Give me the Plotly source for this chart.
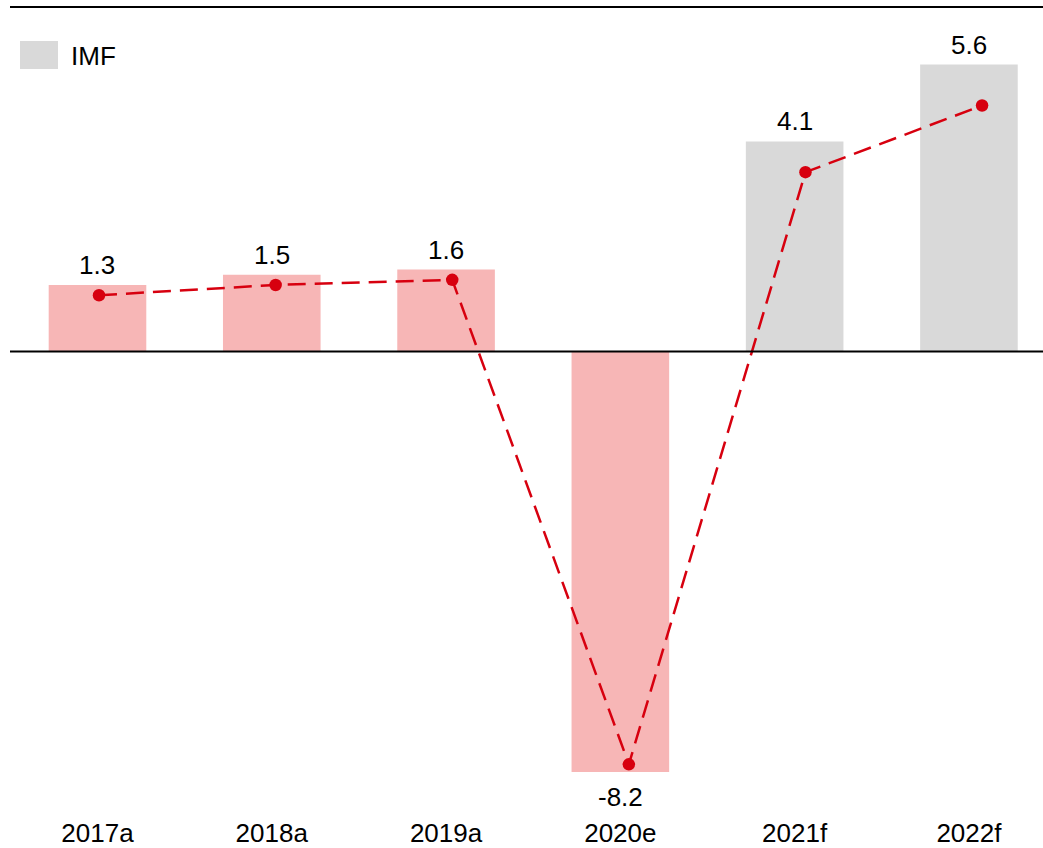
import plotly.graph_objects as go

years = ["2017a", "2018a", "2019a", "2020e", "2021f", "2022f"]
bar_values = [1.3, 1.5, 1.6, -8.2, 4.1, 5.6]
line_values = [1.1, 1.3, 1.4, -8.05, 3.5, 4.8]
bar_colors = ["#F7B6B6", "#F7B6B6", "#F7B6B6", "#F7B6B6", "#D9D9D9", "#D9D9D9"]
legend_label = "IMF"

FONT = "Liberation Sans, Arial, sans-serif"
RED = "#D7000F"
FS = 26

fig = go.Figure()
fig.add_trace(go.Bar(
    x=years, y=bar_values, marker=dict(color=bar_colors, line=dict(width=0)),
    width=0.56, showlegend=False, hoverinfo="skip",
))
fig.add_trace(go.Scatter(
    x=years, y=line_values, mode="lines+markers", xaxis="x2",
    line=dict(color=RED, width=2.5, dash="18px,9px"),
    marker=dict(color=RED, size=12.5),
    showlegend=False, hoverinfo="skip",
))

annotations = []
for yr, v in zip(years, bar_values):
    annotations.append(dict(
        x=yr, y=v, xref="x", yref="y", text=f"{v:.1f}", showarrow=False,
        yanchor="middle", yshift=(20 if v >= 0 else -25),
        font=dict(family=FONT, size=FS, color="#000000"),
    ))
annotations.append(dict(
    x=(69 - 10) / 1033, y=(812.75 - 55.5) / 805.75, xref="paper", yref="paper",
    xanchor="left", yanchor="middle", text=legend_label, showarrow=False,
    font=dict(family=FONT, size=FS, color="#000000"),
))

shapes = [
    dict(type="line", xref="paper", yref="paper", x0=0, x1=1, y0=1, y1=1,
         line=dict(color="#000000", width=2)),
    dict(type="line", xref="paper", yref="y", x0=0, x1=1, y0=0, y1=0,
         line=dict(color="#000000", width=2)),
    dict(type="rect", xref="paper", yref="paper",
         x0=(20 - 10) / 1033, x1=(58 - 10) / 1033,
         y0=(812.75 - 69) / 805.75, y1=(812.75 - 41) / 805.75,
         fillcolor="#D9D9D9", line=dict(width=0)),
]

fig.update_layout(
    width=1043, height=848,
    margin=dict(l=10, r=0, t=7, b=35, autoexpand=False),
    paper_bgcolor="white", plot_bgcolor="white",
    font=dict(family=FONT, size=FS, color="#000000"),
    annotations=annotations, shapes=shapes,
    xaxis=dict(
        type="category", range=[-0.502, 5.425], showgrid=False, zeroline=False,
        showline=False, ticks="", ticklabelstandoff=2, automargin=False,
        tickfont=dict(family=FONT, size=FS, color="#000000"),
    ),
    xaxis2=dict(
        type="category", range=[-0.504, 5.345], overlaying="x", side="bottom",
        showgrid=False, zeroline=False, showline=False, ticks="",
        showticklabels=False, automargin=False,
    ),
    yaxis=dict(
        range=[-9.0, 6.722], showgrid=False, zeroline=False, showline=False,
        showticklabels=False, ticks="", automargin=False,
    ),
)

fig.write_html("out.html")
